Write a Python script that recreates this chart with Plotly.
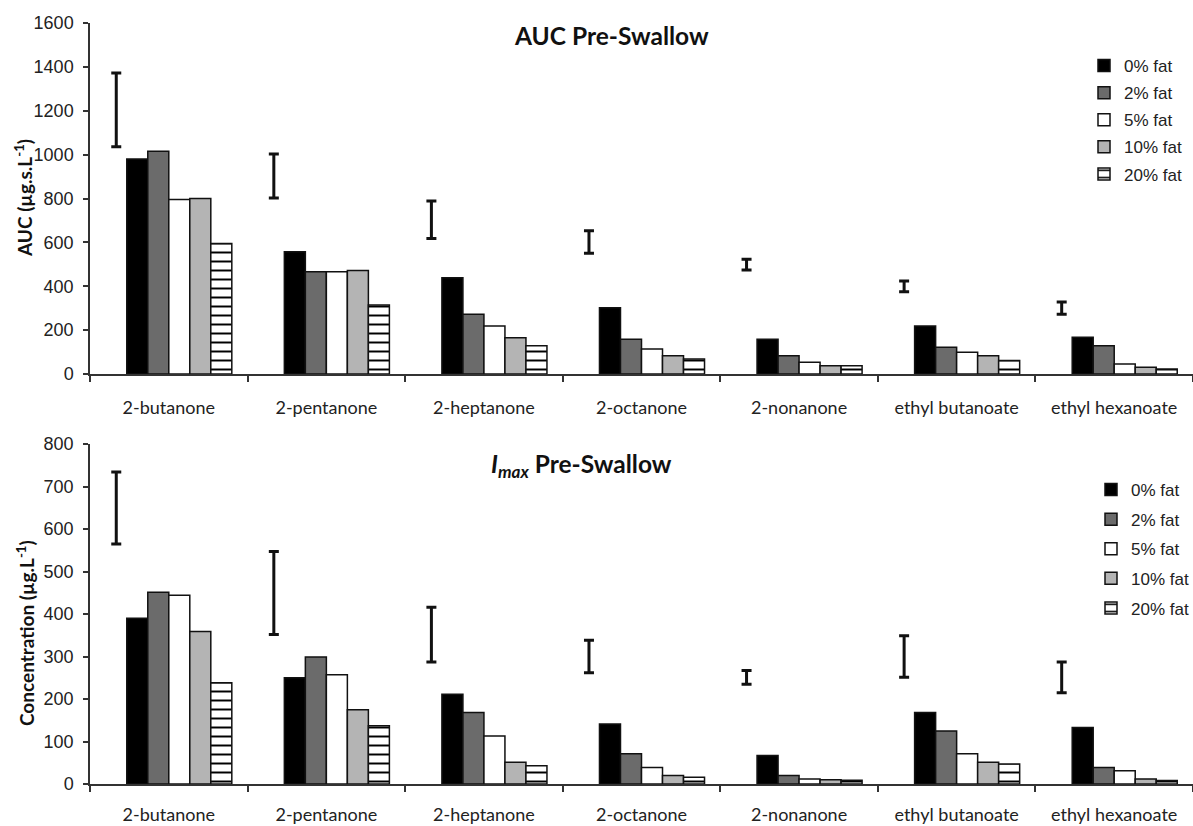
import plotly.graph_objects as go

compounds = ["2-butanone", "2-pentanone", "2-heptanone", "2-octanone",
             "2-nonanone", "ethyl butanoate", "ethyl hexanoate"]
fat_levels = ["0% fat", "2% fat", "5% fat", "10% fat", "20% fat"]

# AUC pre-swallow (µg.s.L-1)
auc_0 = [980, 557, 439, 302, 158, 219, 167]
auc_2 = [1015, 466, 272, 158, 83, 122, 129]
auc_5 = [795, 466, 219, 114, 53, 99, 46]
auc_10 = [800, 472, 165, 83, 38, 83, 31]
auc_20 = [595, 314, 129, 68, 38, 61, 23]
auc_err_low = [1036, 802, 618, 550, 474, 375, 272]
auc_err_high = [1372, 1003, 789, 653, 523, 424, 328]

# Imax pre-swallow (µg.L-1)
imax_0 = [390, 250, 211, 141, 67, 168, 133]
imax_2 = [451, 299, 168, 71, 20, 125, 39]
imax_5 = [444, 257, 113, 39, 12, 71, 31]
imax_10 = [359, 175, 51, 20, 10, 51, 12]
imax_20 = [238, 137, 43, 16, 9, 47, 8]
imax_err_low = [565, 352, 287, 262, 235, 251, 215]
imax_err_high = [734, 547, 416, 338, 267, 349, 287]

fills = ["#000000", "#6b6b6b", "#ffffff", "#b4b4b4", "#ffffff"]

W, H = 1193, 826
fig = go.Figure()


def add_panel(series, err_low, err_high, xa, ya, legend_name):
    center = [(a + b) / 2 for a, b in zip(err_low, err_high)]
    half = [(b - a) / 2 for a, b in zip(err_low, err_high)]
    fig.add_trace(go.Bar(
        x=compounds, y=center, xaxis=xa, yaxis=ya,
        marker=dict(color="rgba(0,0,0,0)", line=dict(width=0)),
        error_y=dict(type="data", array=half, visible=True,
                     color="#111111", thickness=3, width=5),
        showlegend=False, hoverinfo="skip",
    ))
    for i, (name, vals) in enumerate(zip(fat_levels, series)):
        marker = dict(color=fills[i], line=dict(color="#111111", width=1.5))
        if i == 4:
            marker["pattern"] = dict(shape="-", fgcolor="#000000",
                                     bgcolor="#ffffff", fgopacity=1,
                                     size=9, solidity=0.22,
                                     fillmode="replace")
        fig.add_trace(go.Bar(
            x=compounds, y=vals, name=name, xaxis=xa, yaxis=ya,
            marker=marker, legend=legend_name,
            legendgroup=legend_name + name,
        ))


add_panel([auc_0, auc_2, auc_5, auc_10, auc_20], auc_err_low, auc_err_high,
          "x", "y", "legend")
add_panel([imax_0, imax_2, imax_5, imax_10, imax_20], imax_err_low,
          imax_err_high, "x2", "y2", "legend2")

xdom = [90 / W, 1.0]
tickfont = dict(family="Liberation Sans, Arial", size=18, color="#222222")
catfont = dict(family="Lato, Open Sans", size=18, color="#222222")

xcommon = dict(domain=xdom, type="category", showline=True,
               linecolor="#333333", linewidth=1.5, ticks="outside",
               tickson="boundaries", ticklen=6, tickcolor="#333333",
               tickwidth=1.5, tickfont=catfont,
               showgrid=False, zeroline=False, range=[-0.5, 6.5],
               fixedrange=True)
ycommon = dict(showline=True, linecolor="#333333", linewidth=1.5,
               ticks="outside", ticklen=5, tickcolor="#333333", tickwidth=1.5,
               tickfont=tickfont, showgrid=False, zeroline=False,
               ticklabelstandoff=6, fixedrange=True)

legend_common = dict(font=dict(family="Liberation Sans, Arial", size=17,
                               color="#222222"),
                     bgcolor="rgba(0,0,0,0)", xanchor="left", yanchor="top",
                     itemclick=False, itemdoubleclick=False,
                     traceorder="grouped")


def label(text, x, y, size, angle=0):
    return dict(text=text, x=x / W, y=1 - y / H, xref="paper", yref="paper",
                xanchor="center", yanchor="middle", showarrow=False,
                textangle=angle,
                font=dict(family="Lato, Open Sans", size=size,
                          color="#111111"))


fig.update_layout(
    width=W, height=H,
    margin=dict(l=0, r=0, t=0, b=0, autoexpand=False),
    plot_bgcolor="white", paper_bgcolor="white",
    barmode="group", bargap=0.2, bargroupgap=0.0,
    xaxis=dict(**xcommon, anchor="y", ticklabelstandoff=17),
    yaxis=dict(**ycommon, domain=[1 - 374 / H, 1 - 23 / H], range=[0, 1600],
               dtick=200, anchor="x"),
    xaxis2=dict(**xcommon, anchor="y2", ticklabelstandoff=14),
    yaxis2=dict(**ycommon, domain=[1 - 784 / H, 1 - 444 / H], range=[0, 800],
                dtick=100, anchor="x2"),
    legend=dict(**legend_common, x=1084 / W, y=1 - 48 / H,
                tracegroupgap=2),
    legend2=dict(**legend_common, x=1091 / W, y=1 - 472 / H,
                 tracegroupgap=4.5),
    annotations=[
        label("<b>AUC Pre-Swallow</b>", 611, 35, 24.5),
        label("<b><i>I</i><sub><i>max</i></sub> Pre-Swallow</b>", 581, 465,
              24.5),
        label("<b>AUC (µg.s.L<sup>-1</sup>)</b>", 23, 198, 19, -90),
        label("<b>Concentration (µg.L<sup>-1</sup>)</b>", 25, 633, 19, -90),
    ],
)

fig.write_html(
    "out.html",
    config={"displayModeBar": False},
    post_script="document.body.style.margin='0';"
                "document.body.style.overflow='hidden';",
)
